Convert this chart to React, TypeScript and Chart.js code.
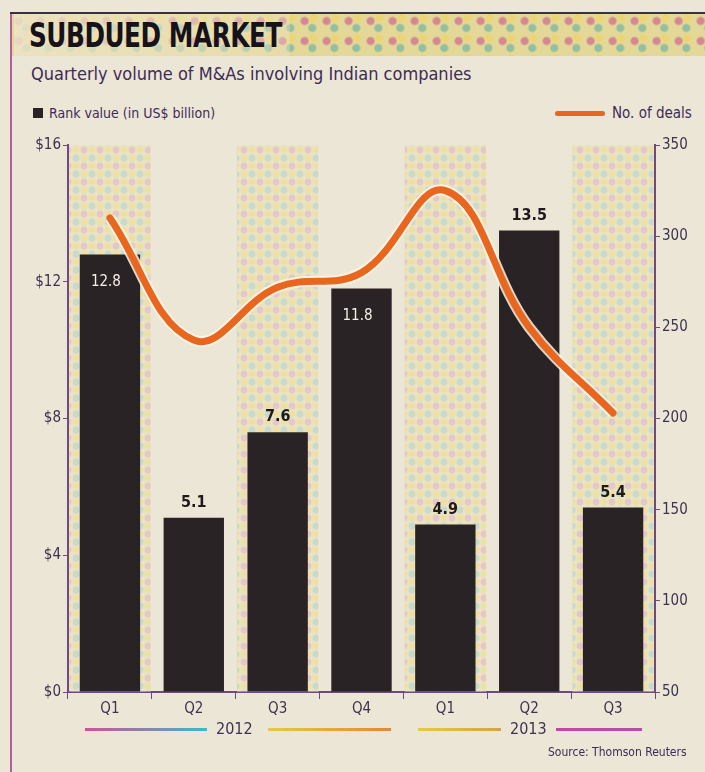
import React, { useEffect, useRef } from "react";
import { Chart, registerables } from "chart.js";

Chart.register(...registerables);

const quarters = ["Q1", "Q2", "Q3", "Q4", "Q1", "Q2", "Q3"];
const rankValue = [12.8, 5.1, 7.6, 11.8, 4.9, 13.5, 5.4];
const dealCount = [310, 243, 272, 280, 325, 250, 203];
const bandValue = [16, null, 16, null, 16, null, 16];
const leftTicks = [0, 4, 8, 12, 16];
const rightTicks = [50, 100, 150, 200, 250, 300, 350];

const NARROW = "'Liberation Sans Narrow', 'DejaVu Sans Condensed', 'Arial Narrow', sans-serif";
const INK = "#3a3450";
const BAR = "#2a2326";
const ORANGE = "#e8661e";
const AXIS = "#6e4a7e";

function makePattern(): CanvasPattern | string {
  const c = document.createElement("canvas");
  c.width = 16;
  c.height = 16;
  const g = c.getContext("2d");
  if (!g) return "#e6ddc2";
  g.fillStyle = "#ebe3c8";
  g.fillRect(0, 0, 16, 16);
  const dot = (x: number, y: number, col: string) => {
    g.fillStyle = col;
    g.beginPath();
    g.arc(x, y, 3.4, 0, Math.PI * 2);
    g.fill();
  };
  dot(4, 4, "rgba(214,150,195,0.35)");
  dot(12, 4, "rgba(240,222,130,0.5)");
  dot(4, 12, "rgba(240,222,130,0.5)");
  dot(12, 12, "rgba(135,200,210,0.35)");
  return g.createPattern(c, "repeat") || "#e6ddc2";
}

const barLabels = {
  id: "barLabels",
  afterDatasetsDraw(chart: any) {
    const meta = chart.getDatasetMeta(1);
    const ctx = chart.ctx;
    ctx.save();
    ctx.textAlign = "center";
    ctx.textBaseline = "middle";
    meta.data.forEach((el: any, i: number) => {
      const v = rankValue[i];
      const txt = v.toFixed(1);
      if (v > 11 && v < 13) {
        ctx.fillStyle = "#f4efe6";
        ctx.font = `15px ${NARROW}`;
        ctx.fillText(txt, el.x - 4, el.y + 28);
      } else {
        ctx.fillStyle = "#1e1a1c";
        ctx.font = `bold 16px ${NARROW}`;
        ctx.fillText(txt, el.x, el.y - 15);
      }
    });
    ctx.restore();
  },
};

export default function App() {
  const ref = useRef<HTMLCanvasElement | null>(null);

  useEffect(() => {
    if (!ref.current) return;
    const pattern = makePattern();
    const chart = new Chart(ref.current, {
      type: "bar",
      data: {
        labels: quarters,
        datasets: [
          {
            type: "line",
            label: "No. of deals",
            data: dealCount,
            yAxisID: "y1",
            borderColor: ORANGE,
            borderWidth: 7,
            tension: 0.4,
            pointRadius: 0,
            borderCapStyle: "round",
            order: 0,
          } as any,
          {
            type: "bar",
            label: "Rank value (in US$ billion)",
            data: rankValue,
            yAxisID: "y",
            backgroundColor: BAR,
            barPercentage: 0.72,
            categoryPercentage: 1,
            grouped: false,
            order: 2,
          } as any,
          {
            type: "bar",
            label: "band",
            data: bandValue,
            yAxisID: "y",
            backgroundColor: pattern,
            barPercentage: 0.97,
            categoryPercentage: 1,
            grouped: false,
            order: 3,
          } as any,
          {
            type: "line",
            label: "halo",
            data: dealCount,
            yAxisID: "y1",
            borderColor: "rgba(250,246,232,0.85)",
            borderWidth: 11,
            tension: 0.4,
            pointRadius: 0,
            order: 1,
          } as any,
        ],
      },
      options: {
        responsive: false,
        animation: false,
        layout: { padding: { top: 15, left: 0, right: 0, bottom: 0 } },
        plugins: {
          legend: { display: false },
          tooltip: { enabled: false },
          title: { display: false },
        },
        scales: {
          x: {
            grid: {
              display: true,
              drawOnChartArea: false,
              drawTicks: true,
              tickLength: 7,
              color: AXIS,
              offset: true,
            },
            border: { display: true, color: AXIS, width: 2 },
            ticks: {
              color: INK,
              font: { family: NARROW, size: 15 },
              padding: 1,
            },
            afterFit(s: any) {
              s.height = 28;
            },
          },
          y: {
            position: "left",
            min: 0,
            max: 16,
            afterBuildTicks(s: any) {
              s.ticks = leftTicks.map((v) => ({ value: v }));
            },
            grid: { drawOnChartArea: false, tickLength: 5, color: AXIS },
            border: { display: true, color: AXIS, width: 2 },
            ticks: {
              color: INK,
              font: { family: NARROW, size: 15 },
              padding: 2,
              callback: (v: any) => "$" + v,
            },
            afterFit(s: any) {
              s.width = 68;
            },
          },
          y1: {
            position: "right",
            min: 50,
            max: 350,
            afterBuildTicks(s: any) {
              s.ticks = rightTicks.map((v) => ({ value: v }));
            },
            grid: { drawOnChartArea: false, tickLength: 5, color: AXIS },
            border: { display: true, color: AXIS, width: 2 },
            ticks: {
              color: INK,
              font: { family: NARROW, size: 15 },
              padding: 2,
            },
            afterFit(s: any) {
              s.width = 50;
            },
          },
        },
      },
      plugins: [barLabels],
    });
    return () => chart.destroy();
  }, []);

  const abs = (s: React.CSSProperties): React.CSSProperties => ({ position: "absolute", ...s });

  return (
    <div
      style={{
        position: "fixed",
        left: 0,
        top: 0,
        width: 705,
        height: 772,
        background: "#ece6d6",
        overflow: "hidden",
        fontFamily: NARROW,
      }}
    >
      {/* frame */}
      <div style={abs({ left: 10, top: 13, width: 2, height: 759, background: "#b0609c" })} />
      <div style={abs({ left: 10, top: 12, width: 695, height: 2, background: "#3a3040" })} />
      {/* title band */}
      <div
        style={abs({
          left: 12,
          top: 14,
          width: 693,
          height: 42,
          backgroundColor: "#e4d898",
          backgroundImage:
            "radial-gradient(circle at 30% 35%, rgba(200,70,140,0.55) 0 3px, transparent 5px), radial-gradient(circle at 65% 70%, rgba(50,160,170,0.45) 0 3px, transparent 5px), radial-gradient(circle at 70% 20%, rgba(240,210,90,0.6) 0 3px, transparent 5px)",
          backgroundSize: "22px 20px",
        })}
      />
      <div
        style={abs({
          left: 14,
          top: 14,
          width: 276,
          height: 42,
          background: "linear-gradient(90deg, rgba(236,228,200,0.85), rgba(236,228,200,0.35))",
        })}
      />
      <div
        style={abs({
          left: 29,
          top: 15,
          fontSize: 34,
          fontWeight: 700,
          color: "#16121a",
          letterSpacing: -0.6,
          lineHeight: "40px",
          fontFamily: NARROW,
          whiteSpace: "nowrap",
          transform: "scaleX(0.81)",
          transformOrigin: "left center",
        })}
      >
        SUBDUED MARKET
      </div>
      <div
        style={abs({
          left: 31,
          top: 62,
          fontSize: 18,
          color: "#3d2b58",
          lineHeight: "24px",
          whiteSpace: "nowrap",
        })}
      >
        Quarterly volume of M&amp;As involving Indian companies
      </div>
      {/* legend */}
      <div style={abs({ left: 33, top: 108, width: 10, height: 10, background: BAR })} />
      <div style={abs({ left: 49, top: 104, fontSize: 14, color: "#3d2b58", lineHeight: "18px", whiteSpace: "nowrap" })}>
        Rank value (in US$ billion)
      </div>
      <div style={abs({ left: 555, top: 111, width: 50, height: 5, background: ORANGE, borderRadius: 3 })} />
      <div style={abs({ left: 612, top: 104, fontSize: 15, color: "#3d2b58", lineHeight: "18px", whiteSpace: "nowrap" })}>
        No. of deals
      </div>
      {/* chart */}
      <canvas ref={ref} width={705} height={590} style={abs({ left: 0, top: 130, width: 705, height: 590 })} />
      {/* year row */}
      <div style={abs({ left: 85, top: 728, width: 122, height: 3, background: "linear-gradient(90deg,#d0509a,#40b8c8)" })} />
      <div style={abs({ left: 216, top: 719, fontSize: 16, color: INK, lineHeight: "20px" })}>2012</div>
      <div style={abs({ left: 268, top: 728, width: 123, height: 3, background: "linear-gradient(90deg,#e8c84a,#e0883a)" })} />
      <div style={abs({ left: 418, top: 728, width: 83, height: 3, background: "linear-gradient(90deg,#e8c84a,#d8a04a)" })} />
      <div style={abs({ left: 510, top: 719, fontSize: 16, color: INK, lineHeight: "20px" })}>2013</div>
      <div style={abs({ left: 556, top: 728, width: 86, height: 3, background: "linear-gradient(90deg,#c04aa0,#b050a8)" })} />
      <div style={abs({ left: 548, top: 745, fontSize: 12, color: "#3d2b58", lineHeight: "14px", whiteSpace: "nowrap" })}>
        Source: Thomson Reuters
      </div>
    </div>
  );
}
